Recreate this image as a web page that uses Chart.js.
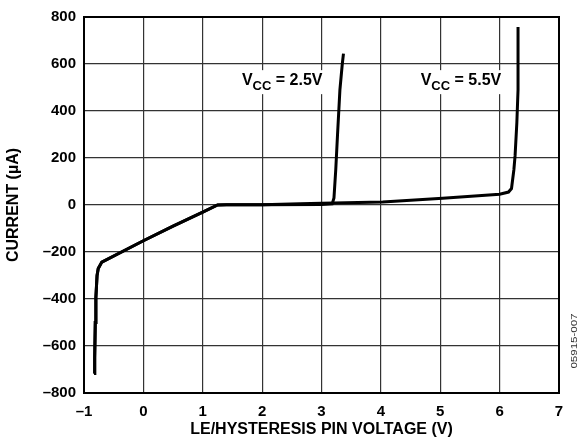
<!DOCTYPE html>
<html>
<head>
<meta charset="utf-8">
<script src="https://cdn.jsdelivr.net/npm/chart.js@4.4.1/dist/chart.umd.min.js"></script>
<style>
  html,body{margin:0;padding:0;background:#fff;}
  #myChart{display:block;}
</style>
</head>
<body>
<canvas id="myChart" width="577" height="445"></canvas>
<script>
// 공통 구간 (음의 영역 ~ 0 부근)
const xCommon = [-0.83, -0.82, -0.81, -0.80, -0.78, -0.76, -0.70, 0, 0.5, 1.0, 1.25, 1.4];
const yCommon = [-717, -650, -500, -394, -300, -270, -243, -152, -90, -30, 0, 1];

// VCC = 2.5V
const x25 = [2.0, 3.0, 3.18, 3.21, 3.24, 3.27, 3.31, 3.35, 3.37];
const y25 = [1, 2, 5, 30, 150, 300, 490, 600, 644];

// VCC = 5.5V
const x55 = [2.0, 2.64, 3.0, 4.03, 5.04, 6.0, 6.15, 6.2, 6.24, 6.26, 6.29, 6.31, 6.31];
const y55 = [1, 5, 7, 13, 29, 46, 55, 70, 150, 209, 350, 490, 757];

const xTicks = [-1, 0, 1, 2, 3, 4, 5, 6, 7];
const yTicks = [-800, -600, -400, -200, 0, 200, 400, 600, 800];

const seriesLabels = ['2.5V', '5.5V'];
const labelPos = [[1.66, 510], [4.67, 510]]; // 라벨 위치 (데이터 좌표)

function toPts(xs, ys){
  return xs.map((x,i)=>({x:x, y:ys[i]}));
}
const pts25 = toPts(xCommon.concat(x25), yCommon.concat(y25));
const pts55 = toPts(xCommon.concat(x55), yCommon.concat(y55));

const FONT = '"Liberation Sans", Arial, Helvetica, sans-serif';
const dash = v => v < 0 ? '\u2013' + Math.abs(v) : '' + v;

// VCC 라벨 + 테두리 + 도면번호
const extras = {
  id:'extras',
  beforeDatasetsDraw(chart){
    const c = chart.ctx, sx = chart.scales.x, sy = chart.scales.y;
    c.save();
    c.textBaseline = 'alphabetic';
    c.textAlign = 'left';
    labelPos.forEach((p,i)=>{
      const px = sx.getPixelForValue(p[0]);
      const py = sy.getPixelForValue(p[1]);
      c.font = 'bold 16px ' + FONT;
      const w1 = c.measureText('V').width;
      const w3 = c.measureText(' = ' + seriesLabels[i]).width;
      c.font = 'bold 13px ' + FONT;
      const w2 = c.measureText('CC').width;
      c.fillStyle = '#fff';
      c.fillRect(px - 3, py - 15, w1 + w2 + w3 + 6, 24);
      c.fillStyle = '#000';
      c.font = 'bold 16px ' + FONT;
      c.fillText('V', px, py);
      c.font = 'bold 13px ' + FONT;
      c.fillText('CC', px + w1, py + 5);
      c.font = 'bold 16px ' + FONT;
      c.fillText(' = ' + seriesLabels[i], px + w1 + w2, py);
    });
    c.restore();
  },
  afterDraw(chart){
    const c = chart.ctx, a = chart.chartArea;
    c.save();
    c.strokeStyle = '#000';
    c.lineWidth = 2;
    c.strokeRect(a.left, a.top, a.right - a.left, a.bottom - a.top);
    c.translate(574.5, 341);
    c.rotate(-Math.PI/2);
    c.scale(1.28, 1);
    c.font = '9px ' + FONT;
    c.fillStyle = '#333';
    c.textAlign = 'center';
    c.textBaseline = 'middle';
    c.fillText('05915-007', 0, 0);
    c.restore();
  }
};

const ctx = document.getElementById('myChart');
new Chart(ctx, {
  type:'scatter',
  data:{
    datasets:[
      {label:'VCC = 2.5V', data:pts25, showLine:true, borderColor:'#000', borderWidth:3, pointRadius:0, tension:0},
      {label:'VCC = 5.5V', data:pts55, showLine:true, borderColor:'#000', borderWidth:3, pointRadius:0, tension:0}
    ]
  },
  options:{
    responsive:false,
    animation:false,
    layout:{padding:{top:13, right:18, left:0, bottom:0}},
    plugins:{legend:{display:false}, tooltip:{enabled:false}},
    scales:{
      x:{
        type:'linear', min:-1, max:7,
        afterBuildTicks: s => { s.ticks = xTicks.map(v=>({value:v})); },
        afterFit: s => { s.height = 52; },
        ticks:{color:'#000', padding:10, font:{family:FONT, size:15, weight:'bold'}, callback:dash},
        grid:{color:'#333', lineWidth:1.2, drawTicks:false},
        border:{color:'#000', width:2},
        title:{display:true, text:'LE/HYSTERESIS PIN VOLTAGE (V)', color:'#000',
               font:{family:FONT, size:16, weight:'bold'}, padding:{top:0, bottom:6}}
      },
      y:{
        type:'linear', min:-800, max:800,
        afterBuildTicks: s => { s.ticks = yTicks.map(v=>({value:v})); },
        afterFit: s => { s.width = 84; },
        ticks:{color:'#000', padding:8, font:{family:FONT, size:15, weight:'bold'}, callback:dash},
        grid:{color:'#333', lineWidth:1.2, drawTicks:false},
        border:{color:'#000', width:2},
        title:{display:true, text:'CURRENT (\u00b5A)', color:'#000',
               font:{family:FONT, size:16, weight:'bold'}, padding:{top:4, bottom:0}}
      }
    }
  },
  plugins:[extras]
});
</script>
</body>
</html>
